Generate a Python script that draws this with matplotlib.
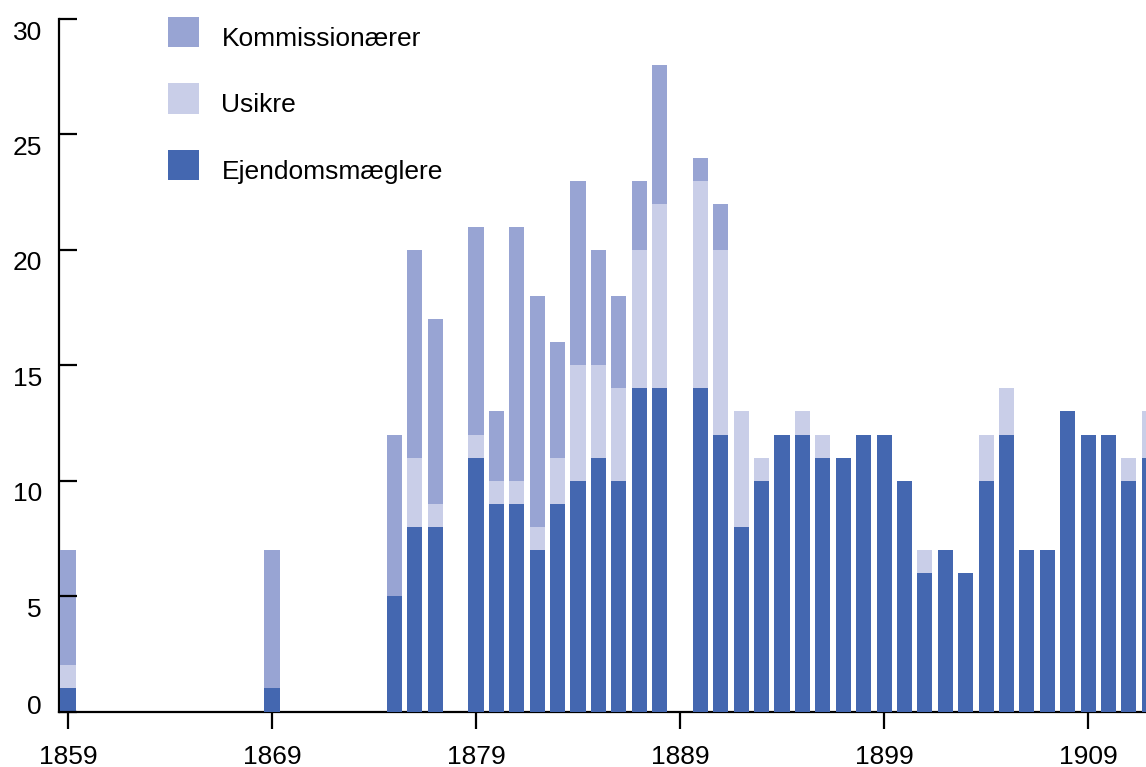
#!/usr/bin/env python
"""
Stacked bar chart: Ejendomsmæglere, usikre og kommissionærer pr. år, 1859-1912.

Usage
-----
    python plot.py   # writes out.png
"""

import matplotlib
matplotlib.use("Agg")  # non-interactive backend
import matplotlib.pyplot as plt
import matplotlib.transforms as mtransforms
from matplotlib.legend_handler import HandlerPatch
from matplotlib.patches import Rectangle

# ---- data -----------------------------------------------------------------
years = [1859, 1869, 1875, 1876, 1877, 1879, 1880, 1881, 1882, 1883,
         1884, 1885, 1886, 1887, 1888, 1890, 1891, 1892, 1893, 1894,
         1895, 1896, 1897, 1898, 1899, 1900, 1901, 1902, 1903, 1904,
         1905, 1906, 1907, 1908, 1909, 1910, 1911, 1912]

ejendomsmaeglere = [1, 1, 5, 8, 8, 11, 9, 9, 7, 9,
                    10, 11, 10, 14, 14, 14, 12, 8, 10, 12,
                    12, 11, 11, 12, 12, 10, 6, 7, 6, 10,
                    12, 7, 7, 13, 12, 12, 10, 11]

usikre = [1, 0, 0, 3, 1, 1, 1, 1, 1, 2,
          5, 4, 4, 6, 8, 9, 8, 5, 1, 0,
          1, 1, 0, 0, 0, 0, 1, 0, 0, 2,
          2, 0, 0, 0, 0, 0, 1, 2]

kommissionaerer = [5, 6, 7, 9, 8, 9, 3, 11, 10, 5,
                   8, 5, 4, 3, 6, 1, 2, 0, 0, 0,
                   0, 0, 0, 0, 0, 0, 0, 0, 0, 0,
                   0, 0, 0, 0, 0, 0, 0, 0]

x_ticks = [1859, 1869, 1879, 1889, 1899, 1909]
y_ticks = [0, 5, 10, 15, 20, 25, 30]

labels = ["Kommissionærer", "Usikre", "Ejendomsmæglere"]
colors = {"E": "#4467B0", "U": "#C9CEE8", "K": "#98A4D3"}

LEGEND_LIFT = 3.6  # points the swatch sits above the text's centre


def raised_square(legend, orig_handle, xdescent, ydescent, width, height, fontsize):
    return Rectangle((-xdescent, -ydescent + LEGEND_LIFT), width, height)


def main() -> None:
    plt.rcParams["font.family"] = ["Liberation Sans", "DejaVu Sans"]
    fs = 19

    W, H = 1146, 767
    fig = plt.figure(figsize=(W / 100, H / 100), dpi=100)
    # axes box in pixels: left spine at x=58.5, bottom at y=711.5, top at y=19
    ax = fig.add_axes([58.5 / W, (H - 711.5) / H, 1 - 58.5 / W, (711.5 - 19) / H])

    # ---- bars -------------------------------------------------------------
    width = 0.74
    bottom_u = ejendomsmaeglere
    bottom_k = [e + u for e, u in zip(ejendomsmaeglere, usikre)]

    h_e = ax.bar(years, ejendomsmaeglere, width, color=colors["E"], linewidth=0)
    h_u = ax.bar(years, usikre, width, bottom=bottom_u, color=colors["U"], linewidth=0)
    h_k = ax.bar(years, kommissionaerer, width, bottom=bottom_k, color=colors["K"], linewidth=0)

    # ---- axes -------------------------------------------------------------
    ax.set_xlim(1858.534, 1911.84)
    ax.set_ylim(0, 30)

    for side in ("top", "right"):
        ax.spines[side].set_visible(False)
    for side in ("left", "bottom"):
        ax.spines[side].set_linewidth(1.6)
        ax.spines[side].set_zorder(0.5)

    ax.set_xticks(x_ticks)
    ax.set_xticklabels([str(y) for y in x_ticks])
    ax.set_yticks(y_ticks)
    ax.set_yticklabels([str(v) for v in y_ticks])

    ax.tick_params(axis="x", direction="out", length=12, width=1.6,
                   labelsize=fs, pad=12)
    ax.tick_params(axis="y", direction="in", length=13, width=1.6,
                   labelsize=fs, pad=12)

    # y labels sit a little below their ticks in the original
    for val, lab in zip(y_ticks, ax.get_yticklabels()):
        dy = 5 / 72 if val == 0 else -8 / 72
        lab.set_transform(lab.get_transform() +
                          mtransforms.ScaledTranslation(0, dy, fig.dpi_scale_trans))

    # ---- legend -----------------------------------------------------------
    handler = HandlerPatch(patch_func=raised_square)
    handles = [h_k.patches[0], h_u.patches[0], h_e.patches[0]]
    fig.legend(handles, labels,
               loc="upper left", bbox_to_anchor=(168 / W, 1 - 22 / H),
               frameon=False, fontsize=fs, borderpad=0, borderaxespad=0,
               handlelength=1.175, handleheight=1.40, labelspacing=1.36,
               handletextpad=0.85, handler_map={Rectangle: handler})

    fig.savefig("out.png", dpi=100)


if __name__ == "__main__":
    main()
